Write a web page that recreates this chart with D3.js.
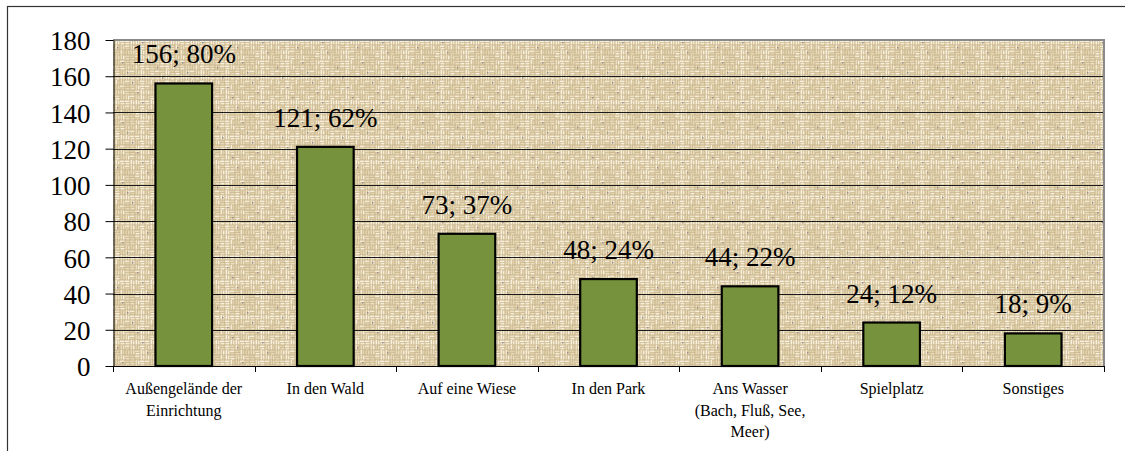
<!DOCTYPE html>
<html>
<head>
<meta charset="utf-8">
<script src="https://cdn.jsdelivr.net/npm/d3@7"></script>
<style>
  html, body { margin: 0; padding: 0; background: #fff; }
  svg { display: block; }
  svg text, svg tspan { font-family: "Liberation Serif", "Times New Roman", Times, serif !important; fill: #000; }
</style>
</head>
<body>
<svg id="chart" width="1125" height="451"></svg>
<script>
// Where children are taken outdoors: counts and share of respondents
const categories = [
  "Außengelände der\nEinrichtung",
  "In den Wald",
  "Auf eine Wiese",
  "In den Park",
  "Ans Wasser\n(Bach, Fluß, See,\nMeer)",
  "Spielplatz",
  "Sonstiges"
];
const counts = [156, 121, 73, 48, 44, 24, 18];
const percents = [80, 62, 37, 24, 22, 12, 9];
const yTicks = [0, 20, 40, 60, 80, 100, 120, 140, 160, 180];

const SERIF = "'Liberation Serif', 'Times New Roman', Times, serif";
const svg = d3.select("#chart");
const plot = { left: 113, right: 1104, top: 40, bottom: 366 };

// outer frame (only top and left edges fall inside the canvas)
svg.append("rect")
  .attr("x", 7.5).attr("y", 6.5)
  .attr("width", 1125).attr("height", 451)
  .attr("fill", "none").attr("stroke", "#333").attr("stroke-width", 1.2);

// woven burlap texture for the plot background:
// a basket weave of short threads whose shade shifts from cell to cell
const defs = svg.append("defs");
const C = 5, N = 12, T = C * N;
const pat = defs.append("pattern")
  .attr("id", "weave").attr("patternUnits", "userSpaceOnUse")
  .attr("width", T).attr("height", T);
pat.append("rect").attr("width", T).attr("height", T).attr("fill", "#c9b48b");
const shades = ["#f5ecd3", "#ece1c3", "#e0d2ad", "#f8f1de", "#e8dbb9"];
for (let i = 0; i < N; i++) {
  for (let j = 0; j < N; j++) {
    const h = (i * 7 + j * 11 + ((i * j) % 5)) % 5;
    const horiz = ((Math.floor(i / 2) + Math.floor(j / 2) + (h === 4 ? 1 : 0)) % 2) === 0;
    const c = shades[h];
    const x0 = i * C, y0 = j * C;
    if (horiz) {
      pat.append("rect").attr("x", x0).attr("y", y0 + 0.5).attr("width", C - 0.5).attr("height", 1.8).attr("fill", c);
      pat.append("rect").attr("x", x0 + 0.5).attr("y", y0 + 3).attr("width", C - 1).attr("height", 1.5).attr("fill", shades[(h + 2) % 5]);
    } else {
      pat.append("rect").attr("x", x0 + 0.5).attr("y", y0).attr("width", 1.8).attr("height", C - 0.5).attr("fill", c);
      pat.append("rect").attr("x", x0 + 3).attr("y", y0 + 0.5).attr("width", 1.5).attr("height", C - 1).attr("fill", shades[(h + 2) % 5]);
    }
    if ((i * 3 + j * 5) % 13 === 0) {
      pat.append("rect").attr("x", x0 + 2).attr("y", y0 + 2).attr("width", 1.5).attr("height", 1.5).attr("fill", "#9a8f8c");
    }
  }
}

const x = d3.scaleBand()
  .domain(d3.range(categories.length))
  .range([plot.left, plot.right])
  .paddingInner(0).paddingOuter(0);
const y = d3.scaleLinear().domain([0, 180]).range([plot.bottom, plot.top]);

svg.append("rect")
  .attr("x", plot.left).attr("y", plot.top)
  .attr("width", plot.right - plot.left).attr("height", plot.bottom - plot.top)
  .attr("fill", "url(#weave)");

// horizontal gridlines
svg.append("g").selectAll("line")
  .data(yTicks.filter(t => t > 0 && t < 180))
  .join("line")
  .attr("x1", plot.left).attr("x2", plot.right)
  .attr("y1", d => Math.round(y(d)) + 0.5).attr("y2", d => Math.round(y(d)) + 0.5)
  .attr("stroke", "#1a1a1a").attr("stroke-width", 1);

// grey top and right edges of the plot area
svg.append("path")
  .attr("d", `M${plot.left},${plot.top} H${plot.right} V${plot.bottom}`)
  .attr("fill", "none").attr("stroke", "#8a8a8a").attr("stroke-width", 2);

// bars
const barW = x.bandwidth() * 0.40;
svg.append("g").selectAll("rect")
  .data(counts)
  .join("rect")
  .attr("x", (d, i) => x(i) + (x.bandwidth() - barW) / 2)
  .attr("y", d => y(d))
  .attr("width", barW)
  .attr("height", d => y(0) - y(d))
  .attr("fill", "#77923d")
  .attr("stroke", "#000").attr("stroke-width", 2.2);

// value labels
svg.append("g").selectAll("text")
  .data(counts)
  .join("text")
  .attr("x", (d, i) => x(i) + x.bandwidth() / 2)
  .attr("y", d => y(d) - 20)
  .attr("text-anchor", "middle")
  .style("font-family", SERIF)
  .style("font-size", "27px")
  .text((d, i) => `${d}; ${percents[i]}%`);

// y axis
const yAxis = svg.append("g")
  .attr("transform", `translate(${plot.left + 0.5},0)`)
  .call(d3.axisLeft(y).tickValues(yTicks).tickSize(8).tickPadding(15).tickSizeOuter(0));
yAxis.attr("font-family", SERIF).attr("font-size", 27);
yAxis.select(".domain").attr("stroke", "#000");
yAxis.selectAll(".tick line").attr("stroke", "#000");
yAxis.selectAll(".tick text")
  .attr("dy", "0.36em")
  .style("font-family", SERIF)
  .style("font-size", "27px")
  .attr("fill", "#000");

// x axis line with ticks at category boundaries
const xg = svg.append("g");
xg.append("line")
  .attr("x1", plot.left).attr("x2", plot.right)
  .attr("y1", plot.bottom + 0.5).attr("y2", plot.bottom + 0.5)
  .attr("stroke", "#000");
xg.selectAll("line.tk")
  .data(d3.range(categories.length + 1))
  .join("line").attr("class", "tk")
  .attr("x1", i => Math.round(i < categories.length ? x(i) : plot.right) + 0.5)
  .attr("x2", i => Math.round(i < categories.length ? x(i) : plot.right) + 0.5)
  .attr("y1", plot.bottom).attr("y2", plot.bottom + 6)
  .attr("stroke", "#000");

// category labels
const cl = svg.append("g").selectAll("text")
  .data(categories)
  .join("text")
  .attr("x", (d, i) => x(i) + x.bandwidth() / 2)
  .attr("y", 394)
  .attr("text-anchor", "middle")
  .style("font-family", SERIF)
  .style("font-size", "16px");
cl.selectAll("tspan")
  .data(d => d.split("\n"))
  .join("tspan")
  .attr("x", function () { return this.parentNode.getAttribute("x"); })
  .attr("dy", (d, i) => i === 0 ? 0 : 21.5)
  .text(d => d);
</script>
</body>
</html>
